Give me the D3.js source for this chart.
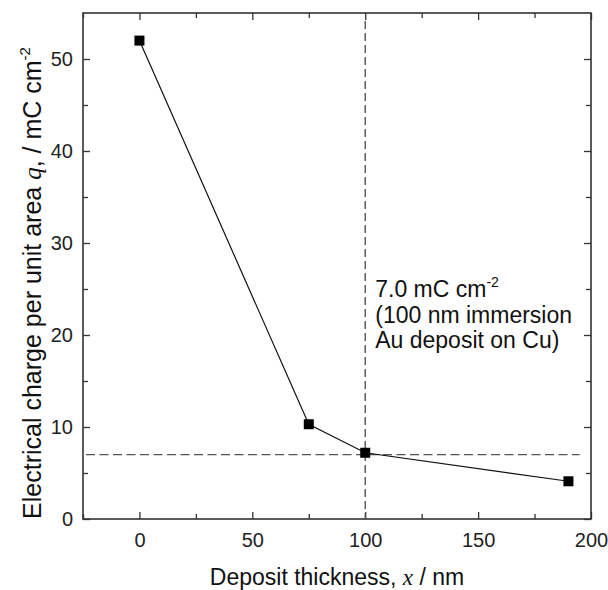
<!DOCTYPE html>
<html>
<head>
<meta charset="utf-8">
<script src="https://cdn.jsdelivr.net/npm/d3@7"></script>
<style>
  html, body { margin: 0; padding: 0; background: #fff; }
  svg { display: block; font-family: "Liberation Sans", Arial, Helvetica, sans-serif; }
</style>
</head>
<body>
<svg id="chart" width="608" height="590"></svg>
<script>
// Deposit thickness (nm) and electrical charge per unit area (mC cm^-2)
const thickness = [0, 75, 100, 190];
const charge = [52.0, 10.3, 7.2, 4.1];

// Reference levels marked with dashed lines
const refThickness = 100;
const refCharge = 7.0;
const refLineEnd = 195;

// Axis ticks
const xMajorTicks = [0, 50, 100, 150, 200];
const xMinorTicks = [-25, 25, 75, 125, 175];
const yMajorTicks = [0, 10, 20, 30, 40, 50];
const yMinorTicks = [5, 15, 25, 35, 45];

const noteLines = ["(100 nm immersion", "Au deposit on Cu)"];

const margin = { left: 83, right: 17, top: 13, bottom: 71 };
const W = 608, H = 590;
const svg = d3.select("#chart");

const x = d3.scaleLinear().domain([-25, 200]).range([margin.left, W - margin.right]);
const y = d3.scaleLinear().domain([0, 55]).range([H - margin.bottom, margin.top]);

const frameColor = "#333";

// Axes with inward ticks on all four sides
function addAxis(axis, transform, labels) {
  const g = svg.append("g").attr("transform", transform).call(axis);
  g.select(".domain").remove();
  g.selectAll(".tick line").attr("stroke", frameColor).attr("stroke-width", 1.3);
  g.selectAll(".tick text")
    .attr("fill", "#222")
    .style("font-size", "20px")
    .style("display", labels ? null : "none");
  return g;
}

const y0 = H - margin.bottom, yTop = margin.top;
const x0 = margin.left, xRight = W - margin.right;

// major ticks with labels (bottom / left)
addAxis(d3.axisBottom(x).tickValues(xMajorTicks).tickSize(-7).tickPadding(14).tickFormat(d3.format("d")),
  `translate(0,${y0})`, true);
addAxis(d3.axisLeft(y).tickValues(yMajorTicks).tickSize(-7).tickPadding(10).tickFormat(d3.format("d")),
  `translate(${x0},0)`, true);
// minor ticks
addAxis(d3.axisBottom(x).tickValues(xMinorTicks).tickSize(-5).tickFormat(""), `translate(0,${y0})`, false);
addAxis(d3.axisLeft(y).tickValues(yMinorTicks).tickSize(-5).tickFormat(""), `translate(${x0},0)`, false);
// mirrored ticks top / right
addAxis(d3.axisTop(x).tickValues(xMajorTicks).tickSize(-7).tickFormat(""), `translate(0,${yTop})`, false);
addAxis(d3.axisTop(x).tickValues(xMinorTicks).tickSize(-5).tickFormat(""), `translate(0,${yTop})`, false);
addAxis(d3.axisRight(y).tickValues(yMajorTicks).tickSize(-7).tickFormat(""), `translate(${xRight},0)`, false);
addAxis(d3.axisRight(y).tickValues(yMinorTicks).tickSize(-5).tickFormat(""), `translate(${xRight},0)`, false);

// plot frame
svg.append("rect")
  .attr("x", x0).attr("y", yTop)
  .attr("width", xRight - x0).attr("height", y0 - yTop)
  .attr("fill", "none").attr("stroke", frameColor).attr("stroke-width", 1.6);

// dashed reference lines
svg.append("line")
  .attr("x1", x(refThickness)).attr("x2", x(refThickness))
  .attr("y1", yTop + 8).attr("y2", y0)
  .attr("stroke", "#555").attr("stroke-width", 1.4).attr("stroke-dasharray", "8,4");
svg.append("line")
  .attr("x1", x0 + 3).attr("x2", x(refLineEnd))
  .attr("y1", y(refCharge)).attr("y2", y(refCharge))
  .attr("stroke", "#555").attr("stroke-width", 1.4).attr("stroke-dasharray", "9,4.5");

// data line and square markers
const pts = thickness.map((t, i) => [t, charge[i]]);
svg.append("path")
  .datum(pts)
  .attr("fill", "none").attr("stroke", "#111").attr("stroke-width", 1.2)
  .attr("d", d3.line().x(d => x(d[0])).y(d => y(d[1])));
const s = 10;
svg.selectAll("rect.pt").data(pts).join("rect")
  .attr("class", "pt")
  .attr("x", d => x(d[0]) - s / 2).attr("y", d => y(d[1]) - s / 2)
  .attr("width", s).attr("height", s).attr("fill", "#000");

// annotation
const note = svg.append("g").attr("fill", "#111").style("font-size", "23px");
const t1 = note.append("text").attr("x", x(refThickness) + 10).attr("y", 297);
t1.append("tspan").text(`${refCharge.toFixed(1)} mC cm`);
t1.append("tspan").attr("dy", -10).style("font-size", "14px").text("-2");
noteLines.forEach((line, i) => {
  note.append("text").attr("x", x(refThickness) + 10).attr("y", 323 + i * 24.5).text(line);
});

// x axis title
const xt = svg.append("text")
  .attr("x", (x0 + xRight) / 2).attr("y", 585)
  .attr("text-anchor", "middle").attr("fill", "#111").style("font-size", "23px");
xt.append("tspan").text("Deposit thickness, ");
xt.append("tspan").style("font-family", "'Liberation Serif', 'Times New Roman', serif").style("font-style", "italic").text("x");
xt.append("tspan").text(" / nm");

// y axis title
const yt = svg.append("text")
  .attr("transform", `translate(41,${(yTop + y0) / 2 + 17}) rotate(-90)`)
  .attr("text-anchor", "middle").attr("fill", "#111").style("font-size", "25px");
yt.append("tspan").text("Electrical charge per unit area ");
yt.append("tspan").style("font-family", "'Liberation Serif', 'Times New Roman', serif").style("font-style", "italic").text("q");
yt.append("tspan").text(", / mC cm");
yt.append("tspan").attr("dy", -11).style("font-size", "15px").text("-2");
</script>
</body>
</html>
